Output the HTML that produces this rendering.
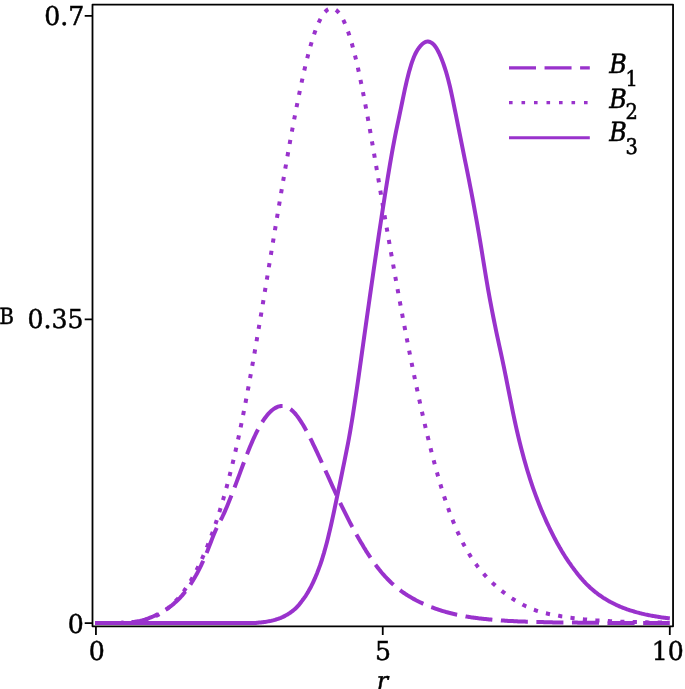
<!DOCTYPE html>
<html lang="en">
<head>
<meta charset="utf-8">
<title>Plot of B1, B2, B3 versus r</title>
<style>
html,body{margin:0;padding:0;background:#fff;}
body{width:685px;height:689px;overflow:hidden;}
svg{display:block;}
text{font-family:"DejaVu Serif Condensed","DejaVu Serif","Liberation Serif",serif;font-stretch:condensed;fill:#000;text-rendering:geometricPrecision;}
.tick{font-size:28px;stroke:#000;stroke-width:0.5px;}
.sub{font-size:21.5px;stroke:#000;stroke-width:0.5px;}
.lg{font-size:26.5px;font-style:italic;stroke:#000;stroke-width:0.5px;}
.it{font-style:italic;}
.curve{fill:none;stroke:#9932CC;stroke-width:4;stroke-linejoin:round;}
.lgl{stroke-width:3.1;}
.ax{stroke:#000;stroke-width:1.8;fill:none;}
</style>
</head>
<body>
<svg width="685" height="689" viewBox="0 0 685 689">
<rect x="0" y="0" width="685" height="689" fill="#fff"/>
<!-- frame -->
<rect class="ax" x="92.5" y="4.55" width="580.55" height="621.75" stroke-linejoin="round"/>
<!-- y ticks -->
<path class="ax" d="M84.7 15.9H92.5 M84.7 319.4H92.5 M84.7 623.1H92.5"/>
<!-- x ticks -->
<path class="ax" d="M95.93 626.3V634.9 M382.75 626.3V634.9 M669.8 626.3V634.9"/>
<!-- curves -->
<path class="curve" id="b1" d="M95.0 623.1 L96.0 623.1 L97.0 623.1 L98.0 623.1 L99.0 623.1 L100.0 623.1 L101.0 623.1 L102.0 623.1 L103.0 623.1 L104.0 623.1 L105.0 623.1 L106.0 623.1 L107.0 623.1 L108.0 623.1 L109.0 623.1 L110.0 623.1 L111.0 623.1 L112.0 623.1 L113.0 623.0 L114.0 623.0 L115.0 623.0 L116.0 623.0 L117.0 623.0 L118.0 623.0 L119.0 622.9 L120.0 622.9 L121.0 622.9 L122.0 622.8 L123.0 622.8 L124.0 622.7 L125.0 622.7 L126.0 622.6 L127.0 622.6 L128.0 622.5 L129.0 622.4 L130.0 622.3 L131.0 622.2 L132.0 622.1 L133.0 622.0 L134.0 621.9 L135.0 621.8 L136.0 621.6 L137.0 621.5 L138.0 621.3 L139.0 621.2 L140.0 621.0 L141.0 620.7 L142.0 620.5 L143.0 620.2 L144.0 619.9 L145.0 619.6 L146.0 619.2 L147.0 618.9 L148.0 618.5 L149.0 618.1 L150.0 617.7 L151.0 617.3 L152.0 616.9 L153.0 616.5 L154.0 616.0 L155.0 615.6 L156.0 615.1 L157.0 614.6 L158.0 614.1 L159.0 613.6 L160.0 613.1 L161.0 612.5 L162.0 612.0 L163.0 611.4 L164.0 610.8 L165.0 610.1 L166.0 609.5 L167.0 608.8 L168.0 608.2 L169.0 607.5 L170.0 606.7 L171.0 606.0 L172.0 605.2 L173.0 604.4 L174.0 603.5 L175.0 602.6 L176.0 601.7 L177.0 600.8 L178.0 599.8 L179.0 598.8 L180.0 597.8 L181.0 596.7 L182.0 595.6 L183.0 594.4 L184.0 593.2 L185.0 592.0 L186.0 590.7 L187.0 589.4 L188.0 588.0 L189.0 586.6 L190.0 585.1 L191.0 583.6 L192.0 582.0 L193.0 580.4 L194.0 578.8 L195.0 577.0 L196.0 575.3 L197.0 573.5 L198.0 571.6 L199.0 569.6 L200.0 567.6 L201.0 565.6 L202.0 563.4 L203.0 561.3 L204.0 559.0 L205.0 556.7 L206.0 554.3 L207.0 551.9 L208.0 549.4 L209.0 546.8 L210.0 544.2 L211.0 541.7 L212.0 539.1 L213.0 536.6 L214.0 534.1 L215.0 531.7 L216.0 529.5 L217.0 527.3 L218.0 525.2 L219.0 523.3 L220.0 521.4 L221.0 519.5 L222.0 517.6 L223.0 515.5 L224.0 513.3 L225.0 511.1 L226.0 508.8 L227.0 506.4 L228.0 504.0 L229.0 501.6 L230.0 499.1 L231.0 496.6 L232.0 494.1 L233.0 491.5 L234.0 488.9 L235.0 486.3 L236.0 483.6 L237.0 480.9 L238.0 478.2 L239.0 475.6 L240.0 472.9 L241.0 470.1 L242.0 467.5 L243.0 464.8 L244.0 462.1 L245.0 459.5 L246.0 456.9 L247.0 454.3 L248.0 451.8 L249.0 449.3 L250.0 446.8 L251.0 444.4 L252.0 442.1 L253.0 439.8 L254.0 437.6 L255.0 435.5 L256.0 433.4 L257.0 431.4 L258.0 429.5 L259.0 427.6 L260.0 425.9 L261.0 424.1 L262.0 422.5 L263.0 420.9 L264.0 419.4 L265.0 418.0 L266.0 416.7 L267.0 415.4 L268.0 414.2 L269.0 413.1 L270.0 412.1 L271.0 411.1 L272.0 410.3 L273.0 409.5 L274.0 408.7 L275.0 408.1 L276.0 407.6 L277.0 407.1 L278.0 406.7 L279.0 406.4 L280.0 406.2 L281.0 406.0 L282.0 406.0 L283.0 406.0 L284.0 406.2 L285.0 406.4 L286.0 406.7 L287.0 407.1 L288.0 407.6 L289.0 408.1 L290.0 408.8 L291.0 409.5 L292.0 410.4 L293.0 411.3 L294.0 412.3 L295.0 413.4 L296.0 414.6 L297.0 415.9 L298.0 417.2 L299.0 418.6 L300.0 420.1 L301.0 421.6 L302.0 423.2 L303.0 424.8 L304.0 426.5 L305.0 428.3 L306.0 430.1 L307.0 431.9 L308.0 433.8 L309.0 435.7 L310.0 437.7 L311.0 439.7 L312.0 441.7 L313.0 443.8 L314.0 445.8 L315.0 447.9 L316.0 450.1 L317.0 452.2 L318.0 454.3 L319.0 456.5 L320.0 458.6 L321.0 460.8 L322.0 463.0 L323.0 465.2 L324.0 467.4 L325.0 469.6 L326.0 471.8 L327.0 474.0 L328.0 476.2 L329.0 478.4 L330.0 480.6 L331.0 482.9 L332.0 485.1 L333.0 487.3 L334.0 489.5 L335.0 491.7 L336.0 493.9 L337.0 496.1 L338.0 498.3 L339.0 500.4 L340.0 502.5 L341.0 504.6 L342.0 506.6 L343.0 508.7 L344.0 510.7 L345.0 512.7 L346.0 514.7 L347.0 516.7 L348.0 518.7 L349.0 520.6 L350.0 522.6 L351.0 524.5 L352.0 526.4 L353.0 528.2 L354.0 530.1 L355.0 531.9 L356.0 533.7 L357.0 535.5 L358.0 537.2 L359.0 539.0 L360.0 540.7 L361.0 542.4 L362.0 544.1 L363.0 545.8 L364.0 547.5 L365.0 549.1 L366.0 550.8 L367.0 552.3 L368.0 553.9 L369.0 555.4 L370.0 556.9 L371.0 558.4 L372.0 559.9 L373.0 561.3 L374.0 562.7 L375.0 564.1 L376.0 565.4 L377.0 566.7 L378.0 568.0 L379.0 569.3 L380.0 570.5 L381.0 571.8 L382.0 573.0 L383.0 574.1 L384.0 575.2 L385.0 576.4 L386.0 577.4 L387.0 578.5 L388.0 579.5 L389.0 580.5 L390.0 581.5 L391.0 582.5 L392.0 583.4 L393.0 584.3 L394.0 585.2 L395.0 586.1 L396.0 586.9 L397.0 587.8 L398.0 588.6 L399.0 589.3 L400.0 590.1 L401.0 590.9 L402.0 591.6 L403.0 592.3 L404.0 593.0 L405.0 593.7 L406.0 594.3 L407.0 595.0 L408.0 595.6 L409.0 596.2 L410.0 596.8 L411.0 597.4 L412.0 598.0 L413.0 598.6 L414.0 599.1 L415.0 599.6 L416.0 600.2 L417.0 600.7 L418.0 601.2 L419.0 601.7 L420.0 602.2 L421.0 602.7 L422.0 603.1 L423.0 603.6 L424.0 604.0 L425.0 604.5 L426.0 604.9 L427.0 605.3 L428.0 605.8 L429.0 606.2 L430.0 606.6 L431.0 607.0 L432.0 607.3 L433.0 607.7 L434.0 608.1 L435.0 608.5 L436.0 608.8 L437.0 609.1 L438.0 609.5 L439.0 609.8 L440.0 610.1 L441.0 610.5 L442.0 610.8 L443.0 611.1 L444.0 611.4 L445.0 611.7 L446.0 612.0 L447.0 612.2 L448.0 612.5 L449.0 612.8 L450.0 613.0 L451.0 613.3 L452.0 613.5 L453.0 613.8 L454.0 614.0 L455.0 614.3 L456.0 614.5 L457.0 614.7 L458.0 614.9 L459.0 615.1 L460.0 615.3 L461.0 615.5 L462.0 615.7 L463.0 615.9 L464.0 616.1 L465.0 616.3 L466.0 616.5 L467.0 616.6 L468.0 616.8 L469.0 617.0 L470.0 617.1 L471.0 617.3 L472.0 617.4 L473.0 617.5 L474.0 617.7 L475.0 617.8 L476.0 618.0 L477.0 618.1 L478.0 618.2 L479.0 618.4 L480.0 618.5 L481.0 618.6 L482.0 618.7 L483.0 618.8 L484.0 618.9 L485.0 619.0 L486.0 619.1 L487.0 619.2 L488.0 619.3 L489.0 619.4 L490.0 619.5 L491.0 619.6 L492.0 619.7 L493.0 619.8 L494.0 619.9 L495.0 620.0 L496.0 620.0 L497.0 620.1 L498.0 620.2 L499.0 620.3 L500.0 620.3 L501.0 620.4 L502.0 620.5 L503.0 620.5 L504.0 620.6 L505.0 620.7 L506.0 620.7 L507.0 620.8 L508.0 620.9 L509.0 620.9 L510.0 621.0 L511.0 621.0 L512.0 621.1 L513.0 621.1 L514.0 621.2 L515.0 621.2 L516.0 621.3 L517.0 621.3 L518.0 621.4 L519.0 621.4 L520.0 621.4 L521.0 621.5 L522.0 621.5 L523.0 621.5 L524.0 621.6 L525.0 621.6 L526.0 621.7 L527.0 621.7 L528.0 621.7 L529.0 621.8 L530.0 621.8 L531.0 621.8 L532.0 621.9 L533.0 621.9 L534.0 621.9 L535.0 622.0 L536.0 622.0 L537.0 622.0 L538.0 622.0 L539.0 622.0 L540.0 622.1 L541.0 622.1 L542.0 622.1 L543.0 622.1 L544.0 622.2 L545.0 622.2 L546.0 622.2 L547.0 622.2 L548.0 622.2 L549.0 622.3 L550.0 622.3 L551.0 622.3 L552.0 622.3 L553.0 622.4 L554.0 622.4 L555.0 622.4 L556.0 622.4 L557.0 622.4 L558.0 622.4 L559.0 622.4 L560.0 622.5 L561.0 622.5 L562.0 622.5 L563.0 622.5 L564.0 622.5 L565.0 622.5 L566.0 622.5 L567.0 622.5 L568.0 622.6 L569.0 622.6 L570.0 622.6 L571.0 622.6 L572.0 622.6 L573.0 622.6 L574.0 622.6 L575.0 622.6 L576.0 622.6 L577.0 622.6 L578.0 622.7 L579.0 622.7 L580.0 622.7 L581.0 622.7 L582.0 622.7 L583.0 622.7 L584.0 622.7 L585.0 622.7 L586.0 622.7 L587.0 622.7 L588.0 622.7 L589.0 622.8 L590.0 622.8 L591.0 622.8 L592.0 622.8 L593.0 622.8 L594.0 622.8 L595.0 622.8 L596.0 622.8 L597.0 622.8 L598.0 622.8 L599.0 622.8 L600.0 622.8 L601.0 622.8 L602.0 622.8 L603.0 622.8 L604.0 622.8 L605.0 622.8 L606.0 622.8 L607.0 622.8 L608.0 622.9 L609.0 622.9 L610.0 622.9 L611.0 622.9 L612.0 622.9 L613.0 622.9 L614.0 622.9 L615.0 622.9 L616.0 622.9 L617.0 622.9 L618.0 622.9 L619.0 622.9 L620.0 622.9 L621.0 622.9 L622.0 622.9 L623.0 622.9 L624.0 622.9 L625.0 622.9 L626.0 622.9 L627.0 622.9 L628.0 622.9 L629.0 622.9 L630.0 622.9 L631.0 622.9 L632.0 622.9 L633.0 622.9 L634.0 622.9 L635.0 622.9 L636.0 622.9 L637.0 622.9 L638.0 622.9 L639.0 622.9 L640.0 622.9 L641.0 622.9 L642.0 622.9 L643.0 622.9 L644.0 622.9 L645.0 622.9 L646.0 622.9 L647.0 623.0 L648.0 623.0 L649.0 623.0 L650.0 623.0 L651.0 623.0 L652.0 623.0 L653.0 623.0 L654.0 623.0 L655.0 623.0 L656.0 623.0 L657.0 623.0 L658.0 623.0 L659.0 623.0 L660.0 623.0 L661.0 623.0 L662.0 623.0 L663.0 623.0 L664.0 623.0 L665.0 623.0 L666.0 623.0 L667.0 623.0 L668.0 623.0 L669.0 623.0 L669.8 623.0" stroke-dasharray="27.05 8.55" stroke-dashoffset="-2"/>
<path class="curve" id="b2" d="M95.0 623.1 L96.0 623.1 L97.0 623.1 L98.0 623.1 L99.0 623.1 L100.0 623.1 L101.0 623.1 L102.0 623.1 L103.0 623.1 L104.0 623.1 L105.0 623.1 L106.0 623.1 L107.0 623.1 L108.0 623.1 L109.0 623.1 L110.0 623.1 L111.0 623.1 L112.0 623.1 L113.0 623.0 L114.0 623.0 L115.0 623.0 L116.0 623.0 L117.0 623.0 L118.0 623.0 L119.0 622.9 L120.0 622.9 L121.0 622.9 L122.0 622.8 L123.0 622.8 L124.0 622.7 L125.0 622.7 L126.0 622.6 L127.0 622.6 L128.0 622.5 L129.0 622.4 L130.0 622.3 L131.0 622.2 L132.0 622.1 L133.0 622.0 L134.0 621.9 L135.0 621.8 L136.0 621.6 L137.0 621.5 L138.0 621.3 L139.0 621.2 L140.0 621.0 L141.0 620.8 L142.0 620.6 L143.0 620.4 L144.0 620.1 L145.0 619.9 L146.0 619.6 L147.0 619.3 L148.0 619.0 L149.0 618.7 L150.0 618.4 L151.0 618.0 L152.0 617.6 L153.0 617.2 L154.0 616.8 L155.0 616.4 L156.0 615.9 L157.0 615.4 L158.0 614.9 L159.0 614.4 L160.0 613.8 L161.0 613.2 L162.0 612.6 L163.0 611.9 L164.0 611.2 L165.0 610.5 L166.0 609.8 L167.0 609.0 L168.0 608.2 L169.0 607.4 L170.0 606.6 L171.0 605.7 L172.0 604.8 L173.0 603.8 L174.0 602.8 L175.0 601.8 L176.0 600.7 L177.0 599.6 L178.0 598.5 L179.0 597.3 L180.0 596.1 L181.0 594.9 L182.0 593.6 L183.0 592.2 L184.0 590.9 L185.0 589.5 L186.0 588.0 L187.0 586.6 L188.0 585.0 L189.0 583.5 L190.0 581.8 L191.0 580.2 L192.0 578.5 L193.0 576.7 L194.0 574.9 L195.0 573.1 L196.0 571.2 L197.0 569.2 L198.0 567.2 L199.0 565.2 L200.0 563.1 L201.0 561.0 L202.0 558.8 L203.0 556.5 L204.0 554.3 L205.0 551.9 L206.0 549.5 L207.0 547.1 L208.0 544.5 L209.0 542.0 L210.0 539.4 L211.0 536.7 L212.0 534.0 L213.0 531.2 L214.0 528.3 L215.0 525.4 L216.0 522.5 L217.0 519.4 L218.0 516.4 L219.0 513.2 L220.0 510.0 L221.0 506.7 L222.0 503.4 L223.0 500.0 L224.0 496.5 L225.0 493.0 L226.0 489.4 L227.0 485.7 L228.0 481.9 L229.0 478.1 L230.0 474.1 L231.0 470.1 L232.0 466.1 L233.0 461.9 L234.0 457.7 L235.0 453.3 L236.0 448.9 L237.0 444.4 L238.0 439.9 L239.0 435.2 L240.0 430.4 L241.0 425.6 L242.0 420.6 L243.0 415.6 L244.0 410.5 L245.0 405.4 L246.0 400.1 L247.0 394.8 L248.0 389.4 L249.0 384.0 L250.0 378.5 L251.0 372.9 L252.0 367.3 L253.0 361.6 L254.0 355.9 L255.0 350.2 L256.0 344.4 L257.0 338.5 L258.0 332.6 L259.0 326.7 L260.0 320.8 L261.0 314.8 L262.0 308.8 L263.0 302.8 L264.0 296.7 L265.0 290.7 L266.0 284.6 L267.0 278.5 L268.0 272.4 L269.0 266.3 L270.0 260.2 L271.0 254.1 L272.0 248.0 L273.0 241.9 L274.0 235.8 L275.0 229.8 L276.0 223.7 L277.0 217.7 L278.0 211.6 L279.0 205.6 L280.0 199.6 L281.0 193.7 L282.0 187.8 L283.0 181.9 L284.0 176.1 L285.0 170.2 L286.0 164.5 L287.0 158.8 L288.0 153.1 L289.0 147.5 L290.0 141.9 L291.0 136.4 L292.0 131.0 L293.0 125.6 L294.0 120.3 L295.0 115.1 L296.0 109.9 L297.0 104.8 L298.0 99.8 L299.0 94.9 L300.0 90.0 L301.0 85.3 L302.0 80.7 L303.0 76.1 L304.0 71.7 L305.0 67.4 L306.0 63.2 L307.0 59.2 L308.0 55.2 L309.0 51.4 L310.0 47.8 L311.0 44.3 L312.0 40.9 L313.0 37.7 L314.0 34.6 L315.0 31.7 L316.0 29.0 L317.0 26.4 L318.0 24.1 L319.0 21.8 L320.0 19.8 L321.0 17.9 L322.0 16.2 L323.0 14.6 L324.0 13.2 L325.0 12.0 L326.0 11.0 L327.0 10.1 L328.0 9.4 L329.0 8.9 L330.0 8.5 L331.0 8.3 L332.0 8.3 L333.0 8.4 L334.0 8.8 L335.0 9.3 L336.0 9.9 L337.0 10.8 L338.0 11.8 L339.0 12.9 L340.0 14.3 L341.0 15.8 L342.0 17.5 L343.0 19.4 L344.0 21.4 L345.0 23.7 L346.0 26.1 L347.0 28.6 L348.0 31.4 L349.0 34.3 L350.0 37.4 L351.0 40.7 L352.0 44.1 L353.0 47.8 L354.0 51.5 L355.0 55.5 L356.0 59.6 L357.0 63.9 L358.0 68.3 L359.0 72.9 L360.0 77.6 L361.0 82.4 L362.0 87.3 L363.0 92.3 L364.0 97.5 L365.0 102.7 L366.0 108.1 L367.0 113.5 L368.0 119.0 L369.0 124.6 L370.0 130.2 L371.0 135.9 L372.0 141.7 L373.0 147.4 L374.0 153.3 L375.0 159.1 L376.0 165.0 L377.0 170.9 L378.0 176.8 L379.0 182.7 L380.0 188.7 L381.0 194.6 L382.0 200.4 L383.0 206.3 L384.0 212.2 L385.0 218.0 L386.0 223.8 L387.0 229.6 L388.0 235.4 L389.0 241.1 L390.0 246.8 L391.0 252.5 L392.0 258.2 L393.0 263.8 L394.0 269.4 L395.0 275.0 L396.0 280.6 L397.0 286.1 L398.0 291.6 L399.0 297.1 L400.0 302.5 L401.0 307.9 L402.0 313.3 L403.0 318.6 L404.0 323.9 L405.0 329.1 L406.0 334.4 L407.0 339.6 L408.0 344.7 L409.0 349.8 L410.0 354.8 L411.0 359.9 L412.0 364.8 L413.0 369.8 L414.0 374.6 L415.0 379.5 L416.0 384.3 L417.0 389.0 L418.0 393.7 L419.0 398.4 L420.0 402.9 L421.0 407.5 L422.0 412.0 L423.0 416.4 L424.0 420.8 L425.0 425.1 L426.0 429.4 L427.0 433.6 L428.0 437.8 L429.0 441.9 L430.0 445.9 L431.0 449.9 L432.0 453.9 L433.0 457.7 L434.0 461.5 L435.0 465.3 L436.0 468.9 L437.0 472.6 L438.0 476.1 L439.0 479.6 L440.0 483.0 L441.0 486.4 L442.0 489.6 L443.0 492.8 L444.0 496.0 L445.0 499.0 L446.0 502.0 L447.0 504.9 L448.0 507.8 L449.0 510.6 L450.0 513.3 L451.0 515.9 L452.0 518.5 L453.0 521.0 L454.0 523.5 L455.0 525.9 L456.0 528.3 L457.0 530.5 L458.0 532.8 L459.0 534.9 L460.0 537.0 L461.0 539.1 L462.0 541.1 L463.0 543.1 L464.0 545.0 L465.0 546.8 L466.0 548.6 L467.0 550.4 L468.0 552.1 L469.0 553.8 L470.0 555.4 L471.0 557.0 L472.0 558.5 L473.0 560.0 L474.0 561.5 L475.0 562.9 L476.0 564.3 L477.0 565.6 L478.0 567.0 L479.0 568.2 L480.0 569.5 L481.0 570.7 L482.0 571.9 L483.0 573.1 L484.0 574.2 L485.0 575.3 L486.0 576.4 L487.0 577.5 L488.0 578.5 L489.0 579.5 L490.0 580.5 L491.0 581.5 L492.0 582.4 L493.0 583.4 L494.0 584.3 L495.0 585.2 L496.0 586.1 L497.0 587.0 L498.0 587.8 L499.0 588.7 L500.0 589.5 L501.0 590.3 L502.0 591.1 L503.0 591.9 L504.0 592.7 L505.0 593.4 L506.0 594.2 L507.0 594.9 L508.0 595.6 L509.0 596.3 L510.0 597.0 L511.0 597.7 L512.0 598.4 L513.0 599.0 L514.0 599.6 L515.0 600.3 L516.0 600.9 L517.0 601.5 L518.0 602.0 L519.0 602.6 L520.0 603.2 L521.0 603.7 L522.0 604.2 L523.0 604.8 L524.0 605.3 L525.0 605.8 L526.0 606.3 L527.0 606.7 L528.0 607.2 L529.0 607.6 L530.0 608.1 L531.0 608.5 L532.0 608.9 L533.0 609.4 L534.0 609.7 L535.0 610.1 L536.0 610.5 L537.0 610.8 L538.0 611.1 L539.0 611.5 L540.0 611.8 L541.0 612.0 L542.0 612.3 L543.0 612.6 L544.0 612.8 L545.0 613.1 L546.0 613.3 L547.0 613.5 L548.0 613.8 L549.0 614.0 L550.0 614.2 L551.0 614.4 L552.0 614.5 L553.0 614.7 L554.0 614.9 L555.0 615.1 L556.0 615.3 L557.0 615.5 L558.0 615.6 L559.0 615.8 L560.0 616.0 L561.0 616.2 L562.0 616.4 L563.0 616.5 L564.0 616.7 L565.0 616.9 L566.0 617.0 L567.0 617.2 L568.0 617.4 L569.0 617.5 L570.0 617.7 L571.0 617.8 L572.0 617.9 L573.0 618.1 L574.0 618.2 L575.0 618.3 L576.0 618.5 L577.0 618.6 L578.0 618.7 L579.0 618.8 L580.0 618.9 L581.0 619.0 L582.0 619.1 L583.0 619.2 L584.0 619.4 L585.0 619.5 L586.0 619.5 L587.0 619.6 L588.0 619.7 L589.0 619.8 L590.0 619.9 L591.0 620.0 L592.0 620.1 L593.0 620.1 L594.0 620.2 L595.0 620.3 L596.0 620.4 L597.0 620.4 L598.0 620.5 L599.0 620.6 L600.0 620.6 L601.0 620.7 L602.0 620.8 L603.0 620.8 L604.0 620.9 L605.0 620.9 L606.0 621.0 L607.0 621.0 L608.0 621.1 L609.0 621.1 L610.0 621.2 L611.0 621.2 L612.0 621.3 L613.0 621.3 L614.0 621.4 L615.0 621.4 L616.0 621.5 L617.0 621.5 L618.0 621.5 L619.0 621.6 L620.0 621.6 L621.0 621.7 L622.0 621.7 L623.0 621.7 L624.0 621.8 L625.0 621.8 L626.0 621.8 L627.0 621.9 L628.0 621.9 L629.0 621.9 L630.0 622.0 L631.0 622.0 L632.0 622.0 L633.0 622.0 L634.0 622.1 L635.0 622.1 L636.0 622.1 L637.0 622.1 L638.0 622.2 L639.0 622.2 L640.0 622.2 L641.0 622.2 L642.0 622.2 L643.0 622.3 L644.0 622.3 L645.0 622.3 L646.0 622.3 L647.0 622.3 L648.0 622.4 L649.0 622.4 L650.0 622.4 L651.0 622.4 L652.0 622.4 L653.0 622.4 L654.0 622.5 L655.0 622.5 L656.0 622.5 L657.0 622.5 L658.0 622.5 L659.0 622.5 L660.0 622.5 L661.0 622.5 L662.0 622.6 L663.0 622.6 L664.0 622.6 L665.0 622.6 L666.0 622.6 L667.0 622.6 L668.0 622.6 L669.0 622.6 L669.8 622.6" stroke-dasharray="4.2 8.3" stroke-dashoffset="0.9"/>
<path class="curve" id="b3" d="M95.0 623.1 L96.0 623.1 L97.0 623.1 L98.0 623.1 L99.0 623.1 L100.0 623.1 L101.0 623.1 L102.0 623.1 L103.0 623.1 L104.0 623.1 L105.0 623.1 L106.0 623.1 L107.0 623.1 L108.0 623.1 L109.0 623.1 L110.0 623.1 L111.0 623.1 L112.0 623.1 L113.0 623.1 L114.0 623.1 L115.0 623.1 L116.0 623.1 L117.0 623.1 L118.0 623.1 L119.0 623.1 L120.0 623.1 L121.0 623.1 L122.0 623.1 L123.0 623.1 L124.0 623.1 L125.0 623.1 L126.0 623.1 L127.0 623.1 L128.0 623.1 L129.0 623.1 L130.0 623.1 L131.0 623.1 L132.0 623.1 L133.0 623.1 L134.0 623.1 L135.0 623.1 L136.0 623.1 L137.0 623.1 L138.0 623.1 L139.0 623.1 L140.0 623.1 L141.0 623.1 L142.0 623.1 L143.0 623.1 L144.0 623.1 L145.0 623.1 L146.0 623.1 L147.0 623.1 L148.0 623.1 L149.0 623.1 L150.0 623.1 L151.0 623.1 L152.0 623.1 L153.0 623.1 L154.0 623.1 L155.0 623.1 L156.0 623.1 L157.0 623.1 L158.0 623.1 L159.0 623.1 L160.0 623.1 L161.0 623.1 L162.0 623.1 L163.0 623.1 L164.0 623.1 L165.0 623.1 L166.0 623.1 L167.0 623.1 L168.0 623.1 L169.0 623.1 L170.0 623.1 L171.0 623.1 L172.0 623.1 L173.0 623.1 L174.0 623.1 L175.0 623.1 L176.0 623.1 L177.0 623.1 L178.0 623.1 L179.0 623.1 L180.0 623.1 L181.0 623.1 L182.0 623.1 L183.0 623.1 L184.0 623.1 L185.0 623.1 L186.0 623.1 L187.0 623.1 L188.0 623.1 L189.0 623.1 L190.0 623.1 L191.0 623.1 L192.0 623.1 L193.0 623.1 L194.0 623.1 L195.0 623.1 L196.0 623.1 L197.0 623.1 L198.0 623.1 L199.0 623.1 L200.0 623.1 L201.0 623.1 L202.0 623.1 L203.0 623.1 L204.0 623.1 L205.0 623.1 L206.0 623.1 L207.0 623.1 L208.0 623.1 L209.0 623.1 L210.0 623.1 L211.0 623.1 L212.0 623.1 L213.0 623.1 L214.0 623.1 L215.0 623.1 L216.0 623.1 L217.0 623.1 L218.0 623.1 L219.0 623.1 L220.0 623.1 L221.0 623.1 L222.0 623.1 L223.0 623.1 L224.0 623.1 L225.0 623.1 L226.0 623.1 L227.0 623.0 L228.0 623.0 L229.0 623.0 L230.0 623.0 L231.0 623.0 L232.0 623.0 L233.0 623.0 L234.0 623.0 L235.0 623.0 L236.0 623.0 L237.0 623.0 L238.0 623.0 L239.0 623.0 L240.0 623.0 L241.0 623.0 L242.0 623.0 L243.0 623.0 L244.0 623.0 L245.0 623.0 L246.0 623.0 L247.0 623.0 L248.0 623.0 L249.0 623.0 L250.0 623.0 L251.0 623.0 L252.0 623.0 L253.0 623.0 L254.0 623.0 L255.0 623.0 L256.0 622.9 L257.0 622.8 L258.0 622.7 L259.0 622.6 L260.0 622.5 L261.0 622.4 L262.0 622.3 L263.0 622.2 L264.0 622.0 L265.0 621.9 L266.0 621.8 L267.0 621.6 L268.0 621.4 L269.0 621.2 L270.0 621.1 L271.0 620.9 L272.0 620.6 L273.0 620.4 L274.0 620.1 L275.0 619.9 L276.0 619.5 L277.0 619.2 L278.0 618.9 L279.0 618.5 L280.0 618.2 L281.0 617.8 L282.0 617.3 L283.0 616.9 L284.0 616.4 L285.0 615.9 L286.0 615.3 L287.0 614.8 L288.0 614.1 L289.0 613.5 L290.0 612.9 L291.0 612.1 L292.0 611.4 L293.0 610.6 L294.0 609.8 L295.0 608.9 L296.0 608.0 L297.0 607.0 L298.0 605.9 L299.0 604.8 L300.0 603.5 L301.0 602.2 L302.0 600.9 L303.0 599.5 L304.0 598.2 L305.0 596.8 L306.0 595.3 L307.0 593.7 L308.0 592.1 L309.0 590.3 L310.0 588.5 L311.0 586.7 L312.0 584.7 L313.0 582.6 L314.0 580.4 L315.0 578.2 L316.0 575.8 L317.0 573.4 L318.0 570.8 L319.0 568.1 L320.0 565.4 L321.0 562.5 L322.0 559.5 L323.0 556.2 L324.0 552.9 L325.0 549.3 L326.0 545.7 L327.0 541.9 L328.0 537.9 L329.0 533.8 L330.0 529.6 L331.0 525.2 L332.0 520.8 L333.0 516.2 L334.0 511.5 L335.0 506.7 L336.0 501.9 L337.0 497.1 L338.0 492.4 L339.0 487.6 L340.0 482.8 L341.0 478.0 L342.0 473.1 L343.0 468.2 L344.0 463.3 L345.0 458.4 L346.0 453.4 L347.0 448.4 L348.0 443.3 L349.0 438.0 L350.0 432.4 L351.0 426.5 L352.0 420.5 L353.0 414.3 L354.0 407.8 L355.0 401.1 L356.0 394.5 L357.0 387.8 L358.0 380.9 L359.0 373.9 L360.0 366.7 L361.0 359.6 L362.0 352.4 L363.0 345.3 L364.0 338.1 L365.0 331.0 L366.0 323.9 L367.0 316.8 L368.0 309.7 L369.0 302.7 L370.0 295.6 L371.0 288.6 L372.0 281.7 L373.0 274.8 L374.0 267.8 L375.0 261.0 L376.0 254.2 L377.0 247.4 L378.0 240.6 L379.0 233.9 L380.0 227.3 L381.0 220.7 L382.0 214.1 L383.0 207.6 L384.0 201.2 L385.0 194.8 L386.0 188.5 L387.0 182.2 L388.0 176.1 L389.0 170.1 L390.0 164.1 L391.0 158.3 L392.0 152.7 L393.0 147.2 L394.0 141.8 L395.0 136.6 L396.0 131.6 L397.0 126.8 L398.0 122.1 L399.0 117.5 L400.0 112.7 L401.0 107.9 L402.0 103.0 L403.0 98.2 L404.0 93.4 L405.0 88.7 L406.0 84.2 L407.0 79.9 L408.0 75.9 L409.0 72.1 L410.0 68.6 L411.0 65.2 L412.0 62.2 L413.0 59.4 L414.0 56.8 L415.0 54.5 L416.0 52.5 L417.0 50.7 L418.0 49.1 L419.0 47.8 L420.0 46.5 L421.0 45.3 L422.0 44.3 L423.0 43.5 L424.0 42.7 L425.0 42.2 L426.0 41.8 L427.0 41.6 L428.0 41.5 L429.0 41.7 L430.0 42.0 L431.0 42.5 L432.0 43.1 L433.0 43.9 L434.0 44.9 L435.0 46.1 L436.0 47.5 L437.0 49.1 L438.0 51.0 L439.0 53.0 L440.0 55.2 L441.0 57.5 L442.0 60.0 L443.0 62.6 L444.0 65.5 L445.0 68.5 L446.0 71.7 L447.0 75.1 L448.0 78.8 L449.0 82.7 L450.0 86.8 L451.0 91.2 L452.0 95.8 L453.0 100.6 L454.0 105.6 L455.0 110.5 L456.0 115.4 L457.0 120.3 L458.0 125.3 L459.0 130.3 L460.0 135.3 L461.0 140.3 L462.0 145.3 L463.0 150.3 L464.0 155.3 L465.0 160.3 L466.0 165.2 L467.0 170.2 L468.0 175.2 L469.0 180.2 L470.0 185.3 L471.0 190.4 L472.0 195.6 L473.0 200.9 L474.0 206.4 L475.0 211.8 L476.0 217.3 L477.0 222.9 L478.0 228.7 L479.0 234.5 L480.0 240.4 L481.0 246.4 L482.0 252.5 L483.0 258.7 L484.0 264.9 L485.0 271.0 L486.0 277.1 L487.0 283.0 L488.0 288.8 L489.0 294.4 L490.0 299.9 L491.0 305.2 L492.0 310.4 L493.0 315.5 L494.0 320.5 L495.0 325.4 L496.0 330.3 L497.0 335.1 L498.0 339.7 L499.0 344.3 L500.0 348.9 L501.0 353.5 L502.0 358.2 L503.0 362.9 L504.0 367.7 L505.0 372.6 L506.0 377.5 L507.0 382.6 L508.0 387.6 L509.0 392.7 L510.0 397.6 L511.0 402.6 L512.0 407.7 L513.0 412.6 L514.0 417.4 L515.0 422.0 L516.0 426.6 L517.0 431.0 L518.0 435.3 L519.0 439.5 L520.0 443.5 L521.0 447.5 L522.0 451.3 L523.0 455.1 L524.0 458.8 L525.0 462.3 L526.0 465.8 L527.0 469.2 L528.0 472.5 L529.0 475.7 L530.0 478.8 L531.0 481.9 L532.0 484.9 L533.0 487.8 L534.0 490.6 L535.0 493.4 L536.0 496.1 L537.0 498.8 L538.0 501.4 L539.0 504.0 L540.0 506.5 L541.0 508.9 L542.0 511.4 L543.0 513.7 L544.0 516.0 L545.0 518.3 L546.0 520.6 L547.0 522.8 L548.0 524.9 L549.0 527.0 L550.0 529.1 L551.0 531.2 L552.0 533.2 L553.0 535.2 L554.0 537.1 L555.0 539.0 L556.0 540.9 L557.0 542.8 L558.0 544.6 L559.0 546.3 L560.0 548.1 L561.0 549.8 L562.0 551.5 L563.0 553.1 L564.0 554.7 L565.0 556.3 L566.0 557.8 L567.0 559.3 L568.0 560.8 L569.0 562.3 L570.0 563.7 L571.0 565.2 L572.0 566.6 L573.0 567.9 L574.0 569.3 L575.0 570.6 L576.0 571.9 L577.0 573.2 L578.0 574.5 L579.0 575.7 L580.0 576.9 L581.0 578.1 L582.0 579.2 L583.0 580.4 L584.0 581.5 L585.0 582.5 L586.0 583.6 L587.0 584.6 L588.0 585.6 L589.0 586.5 L590.0 587.5 L591.0 588.4 L592.0 589.2 L593.0 590.1 L594.0 590.9 L595.0 591.8 L596.0 592.5 L597.0 593.3 L598.0 594.1 L599.0 594.8 L600.0 595.5 L601.0 596.2 L602.0 596.9 L603.0 597.6 L604.0 598.2 L605.0 598.8 L606.0 599.4 L607.0 600.0 L608.0 600.6 L609.0 601.2 L610.0 601.8 L611.0 602.3 L612.0 602.8 L613.0 603.3 L614.0 603.8 L615.0 604.3 L616.0 604.8 L617.0 605.2 L618.0 605.7 L619.0 606.1 L620.0 606.6 L621.0 607.0 L622.0 607.4 L623.0 607.8 L624.0 608.2 L625.0 608.5 L626.0 608.9 L627.0 609.3 L628.0 609.6 L629.0 610.0 L630.0 610.3 L631.0 610.6 L632.0 610.9 L633.0 611.2 L634.0 611.5 L635.0 611.8 L636.0 612.1 L637.0 612.4 L638.0 612.6 L639.0 612.9 L640.0 613.2 L641.0 613.4 L642.0 613.7 L643.0 613.9 L644.0 614.1 L645.0 614.4 L646.0 614.6 L647.0 614.8 L648.0 615.0 L649.0 615.2 L650.0 615.4 L651.0 615.6 L652.0 615.8 L653.0 616.0 L654.0 616.1 L655.0 616.3 L656.0 616.5 L657.0 616.6 L658.0 616.8 L659.0 617.0 L660.0 617.1 L661.0 617.3 L662.0 617.4 L663.0 617.6 L664.0 617.7 L665.0 617.8 L666.0 618.0 L667.0 618.1 L668.0 618.2 L669.0 618.3 L669.8 618.4"/>
<!-- tick labels -->
<text class="tick" transform="translate(84.2 25) scale(1 .93)" text-anchor="end">0.7</text>
<text class="tick" transform="translate(83.5 328) scale(1 .93)" text-anchor="end">0.35</text>
<text class="tick" transform="translate(83.9 633) scale(1 .93)" text-anchor="end">0</text>
<text class="tick" transform="translate(96.8 660) scale(1 .93)" text-anchor="middle">0</text>
<text class="tick" transform="translate(382.9 660) scale(1 .93)" text-anchor="middle">5</text>
<text class="tick" transform="translate(667.8 660) scale(1 .93)" text-anchor="middle">10</text>
<!-- axis labels -->
<text x="-0.7" y="324" font-size="22.3" stroke="#000" stroke-width="0.45">B</text>
<text class="lg" x="382.5" y="689.5" text-anchor="middle">r</text>
<!-- legend -->
<path class="curve lgl" d="M509 67.9H589.8" stroke-dasharray="27 8.55"/>
<path class="curve lgl" d="M509 102.6H589.8" stroke-dasharray="3.6 8.9"/>
<path class="curve lgl" d="M509 137.8H589.8"/>
<text class="lg" x="609.3" y="73.1">B</text><text class="sub" x="625.5" y="85.9">1</text>
<text class="lg" x="609.3" y="107.6">B</text><text class="sub" x="625.5" y="119.4">2</text>
<text class="lg" x="609.3" y="141">B</text><text class="sub" x="625.5" y="153.8">3</text>
</svg>
</body>
</html>
